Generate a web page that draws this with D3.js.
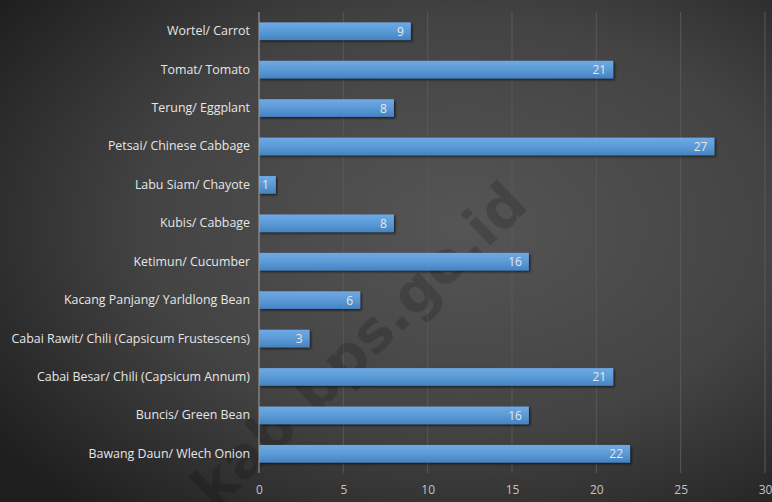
<!DOCTYPE html>
<html><head><meta charset="utf-8">
<script src="https://cdn.jsdelivr.net/npm/d3@7"></script>
<style>html,body{margin:0;padding:0;background:#333;}svg{display:block;}</style>
</head><body>
<svg id="chart" width="772" height="502"></svg>
<script>
const categories = [
  "Wortel/ Carrot",
  "Tomat/ Tomato",
  "Terung/ Eggplant",
  "Petsai/ Chinese Cabbage",
  "Labu Siam/ Chayote",
  "Kubis/ Cabbage",
  "Ketimun/ Cucumber",
  "Kacang Panjang/ Yarldlong Bean",
  "Cabai Rawit/ Chili (Capsicum Frustescens)",
  "Cabai Besar/ Chili (Capsicum Annum)",
  "Buncis/ Green Bean",
  "Bawang Daun/ Wlech Onion"
];
const values = [9, 21, 8, 27, 1, 8, 16, 6, 3, 21, 16, 22];
const tickValues = [0, 5, 10, 15, 20, 25, 30];

const W = 772, H = 502;
const svg = d3.select("#chart");
const defs = svg.append("defs");

const bg = defs.append("radialGradient").attr("id","bg")
  .attr("cx","0.6").attr("cy","0.45").attr("r","0.75");
bg.append("stop").attr("offset","0").attr("stop-color","#555555");
bg.append("stop").attr("offset","0.55").attr("stop-color","#434343");
bg.append("stop").attr("offset","1").attr("stop-color","#1e1e1e");

const bar = defs.append("linearGradient").attr("id","bar")
  .attr("x1","0").attr("y1","0").attr("x2","0").attr("y2","1");
bar.append("stop").attr("offset","0").attr("stop-color","#6fa9e6");
bar.append("stop").attr("offset","0.5").attr("stop-color","#5b9bd5");
bar.append("stop").attr("offset","1").attr("stop-color","#4682c4");

const sh = defs.append("filter").attr("id","shadow").attr("x","-5%").attr("y","-30%").attr("width","115%").attr("height","180%");
sh.append("feDropShadow").attr("dx",1.5).attr("dy",1.5).attr("stdDeviation",1).attr("flood-color","#000").attr("flood-opacity",0.6);

svg.append("rect").attr("width",W).attr("height",H).attr("fill","url(#bg)");

const margin = {left:259, right:7, top:12, bottom:29};
const x = d3.scaleLinear().domain([0,30]).range([margin.left, W - margin.right]);
const y = d3.scaleBand().domain(categories).range([margin.top, H - margin.bottom]).paddingInner(0.54).paddingOuter(0.27);

const font = "'Open Sans', 'DejaVu Sans', sans-serif";

// gridlines
svg.append("g").selectAll("line").data(tickValues.filter(d=>d>0)).join("line")
  .attr("x1",d=>x(d)).attr("x2",d=>x(d))
  .attr("y1",margin.top).attr("y2",H - margin.bottom)
  .attr("stroke","#585858").attr("stroke-width",1);

// watermark
svg.append("text")
  .attr("transform","translate(362,348) rotate(-44)")
  .attr("text-anchor","middle").attr("dominant-baseline","middle")
  .attr("font-family","'DejaVu Sans', sans-serif").attr("font-weight","bold")
  .attr("font-size",57).attr("fill","#000").attr("fill-opacity",0.16)
  .text("kab.bps.go.id");

// bars
svg.append("g").selectAll("rect").data(values).join("rect")
  .attr("x",x(0)).attr("y",(d,i)=>y(categories[i]))
  .attr("width",d=>x(d)-x(0)).attr("height",y.bandwidth())
  .attr("fill","url(#bar)").attr("filter","url(#shadow)");

// value labels
svg.append("g").selectAll("text").data(values).join("text")
  .attr("x",d=>x(d)-7).attr("y",(d,i)=>y(categories[i])+y.bandwidth()/2)
  .attr("text-anchor","end").attr("dominant-baseline","central")
  .attr("font-family",font).attr("font-size",12).attr("fill","#e8e8e8")
  .text(d=>d);

// y axis line
svg.append("line").attr("x1",x(0)).attr("x2",x(0))
  .attr("y1",margin.top).attr("y2",H - margin.bottom)
  .attr("stroke","#a0a0a0").attr("stroke-width",1);

// category labels
const yAxis = d3.axisLeft(y).tickSize(0).tickPadding(9);
const gy = svg.append("g").attr("transform",`translate(${x(0)},0)`).call(yAxis);
gy.select(".domain").remove();
gy.selectAll("text").attr("font-family",font).attr("font-size",12.4).attr("fill","#e6e6e6");

// x tick labels
const xAxis = d3.axisBottom(x).tickValues(tickValues).tickSize(0).tickPadding(12);
const gx = svg.append("g").attr("transform",`translate(0,${H - margin.bottom})`).call(xAxis);
gx.select(".domain").remove();
gx.selectAll("text").attr("font-family",font).attr("font-size",12).attr("fill","#c4c4c4");
</script>
</body></html>
